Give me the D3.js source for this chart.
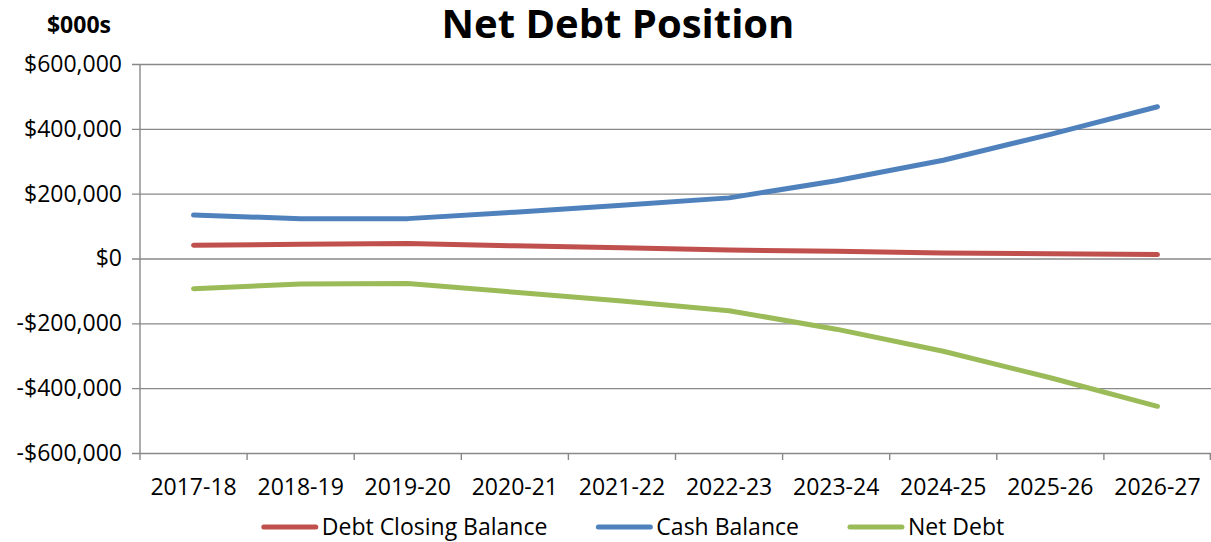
<!DOCTYPE html>
<html>
<head>
<meta charset="utf-8">
<script src="https://cdn.jsdelivr.net/npm/d3@7"></script>
<style>
  body { margin: 0; background: #fff; }
  text { font-family: 'Open Sans', sans-serif; fill: #000; }
</style>
</head>
<body>
<div id="chartDiv"></div>
<script>
// values in $000s
var years = ['2017-18', '2018-19', '2019-20', '2020-21', '2021-22', '2022-23', '2023-24', '2024-25', '2025-26', '2026-27'];
var debtClosing = [41000, 44000, 46000, 39000, 33000, 26000, 22000, 17000, 15000, 12000];
var cashBalance = [134000, 123000, 123000, 143000, 164000, 187000, 240000, 303000, 383000, 468000];
var netDebt = [-93000, -79000, -77000, -104000, -131000, -161000, -218000, -286000, -368000, -456000];
var yTicks = [-600000, -400000, -200000, 0, 200000, 400000, 600000];
var seriesNames = ['Debt Closing Balance', 'Cash Balance', 'Net Debt'];
var seriesColors = ['#C0504D', '#4F81BD', '#9BBB59'];

var w = 1211, h = 542,
  padL = 140, padR = 1211, padT = 64, padB = 453; // plot edges

var svg = d3.select('#chartDiv')
  .append('svg')
    .attr('width', w)
    .attr('height', h);

var xScale = d3.scaleBand()
  .domain(years)
  .range([padL, padR])
  .padding(0);

var yScale = d3.scaleLinear()
  .domain([-600000, 600000])
  .range([padB, padT]);

var money = function(v) {
  return (v < 0 ? '-' : '') + '$' + d3.format(',')(Math.abs(v));
};

// gridlines + y axis
var yAxis = d3.axisLeft(yScale)
  .tickValues(yTicks)
  .tickFormat(money)
  .tickSize(8)
  .tickPadding(18);

var yG = svg.append('g')
  .attr('transform', 'translate(' + padL + ',0)')
  .call(yAxis);
yG.select('.domain').remove();
yG.selectAll('.tick line')
  .attr('x1', -8).attr('x2', padR - padL)
  .attr('stroke', '#898989').attr('stroke-width', 1.4);
yG.selectAll('.tick text')
  .attr('x', -18)
  .style('font-size', '23px');

svg.append('line')
  .attr('x1', padL).attr('x2', padL)
  .attr('y1', padT).attr('y2', padB)
  .attr('stroke', '#898989').attr('stroke-width', 1.4);

// x axis (labels centred, ticks on category boundaries)
var xAxis = d3.axisBottom(xScale).tickSize(0).tickPadding(26);
var xG = svg.append('g')
  .attr('transform', 'translate(0,' + padB + ')')
  .call(xAxis);
xG.select('.domain').remove();
xG.selectAll('.tick text').style('font-size', '23px');

var bounds = years.map(function(d) { return xScale(d); }).concat([padR - 0.7]);
svg.append('g').selectAll('line')
  .data(bounds)
  .enter().append('line')
    .attr('x1', function(d) { return d; })
    .attr('x2', function(d) { return d; })
    .attr('y1', padB).attr('y2', padB + 7)
    .attr('stroke', '#898989').attr('stroke-width', 1.4);

// lines
var line = d3.line()
  .x(function(d, i) { return xScale(years[i]) + xScale.bandwidth() / 2; })
  .y(function(d) { return yScale(d); });

[debtClosing, cashBalance, netDebt].forEach(function(s, i) {
  svg.append('path')
    .datum(s)
    .attr('d', line)
    .attr('fill', 'none')
    .attr('stroke', seriesColors[i])
    .attr('stroke-width', 5)
    .attr('stroke-linecap', 'round')
    .attr('stroke-linejoin', 'round');
});

// title + unit
svg.append('text')
  .attr('x', 618).attr('y', 38)
  .attr('text-anchor', 'middle')
  .style('font-size', '40px').style('font-weight', 'bold')
  .text('Net Debt Position');

svg.append('text')
  .attr('x', 111).attr('y', 33)
  .attr('text-anchor', 'end')
  .style('font-size', '23px').style('font-weight', 'bold')
  .text('$000s');

// legend
var legend = svg.append('g');
var items = legend.selectAll('g')
  .data(seriesNames)
  .enter().append('g');
items.append('line')
  .attr('x1', 0).attr('x2', 52)
  .attr('y1', 0).attr('y2', 0)
  .attr('stroke', function(d, i) { return seriesColors[i]; })
  .attr('stroke-width', 5)
  .attr('stroke-linecap', 'round');
items.append('text')
  .attr('x', 58).attr('dy', '0.35em')
  .style('font-size', '23px')
  .text(function(d) { return d; });

var pos = 0, widths = [];
items.each(function() { widths.push(this.getBBox().width); });
var total = d3.sum(widths) + 51 * (widths.length - 1);
pos = 634 - total / 2;
items.attr('transform', function(d, i) {
  var t = 'translate(' + pos + ',527)';
  pos += widths[i] + 51;
  return t;
});
</script>
</body>
</html>
